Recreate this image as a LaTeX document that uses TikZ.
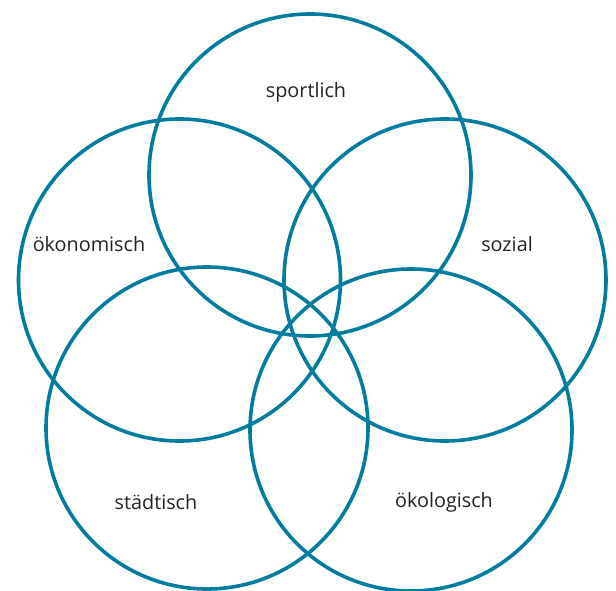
\documentclass[tikz,border=0pt]{standalone}
\usepackage{fontspec}
\setmainfont{Open Sans}
\definecolor{ring}{RGB}{0,124,160}
\definecolor{txt}{RGB}{34,34,34}
\begin{document}
\begin{tikzpicture}[x=1pt,y=-1pt,
  ringc/.style={draw=ring,line width=3.6pt},
  lbl/.style={text=txt,font=\fontsize{19.8}{22}\selectfont,inner sep=0pt}]
\useasboundingbox (0,0) rectangle (616,591);
\draw[ringc] (310,175) circle[radius=161];
\draw[ringc] (179.5,280) circle[radius=161];
\draw[ringc] (445,280) circle[radius=161];
\draw[ringc] (207,428) circle[radius=161];
\draw[ringc] (411,430) circle[radius=161];
\node[lbl] (sp) at (306,92) {sportlich};
\node[lbl] (ok) at (89,244) {ökonomisch};
\node[lbl] (so) at (507,244) {sozial};
\node[lbl] (st) at (156,502) {städtisch};
\node[lbl] (ol) at (444,502) {ökologisch};
\end{tikzpicture}
\end{document}
